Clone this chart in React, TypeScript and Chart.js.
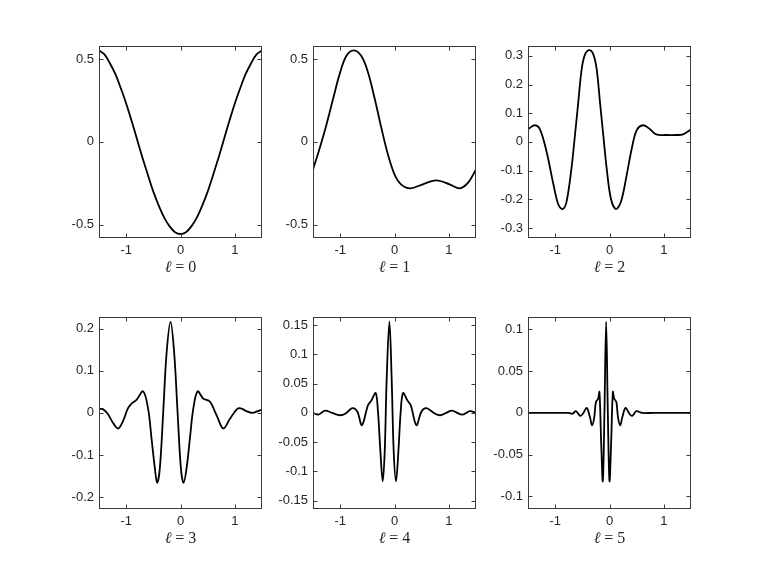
import React, { useEffect, useRef } from "react";
import { Chart, registerables } from "chart.js";

Chart.register(...registerables);

// ---------- data ----------
const X_MIN = -1.5;
const X_MAX = 1.5;
const X_TICKS = [-1, 0, 1];

const L0_X = [-1.5, -1.4, -1.3, -1.2, -1.1, -1.0, -0.9, -0.8, -0.7, -0.6, -0.5, -0.4, -0.3, -0.2, -0.1, 0, 0.1, 0.2, 0.3, 0.4, 0.5, 0.6, 0.7, 0.8, 0.9, 1.0, 1.1, 1.2, 1.3, 1.4, 1.5];
const L0_Y = [0.552, 0.528, 0.475, 0.41, 0.325, 0.232, 0.127, 0.016, -0.095, -0.2, -0.3, -0.385, -0.457, -0.51, -0.545, -0.556, -0.545, -0.51, -0.457, -0.385, -0.3, -0.2, -0.095, 0.016, 0.127, 0.232, 0.325, 0.41, 0.475, 0.528, 0.552];

const L1_X = [-1.5, -1.377, -1.255, -1.13, -1.01, -0.887, -0.75, -0.61, -0.487, -0.364, -0.24, -0.12, 0, 0.12, 0.29, 0.52, 0.77, 1.015, 1.2, 1.355, 1.5];
const L1_Y = [-0.167, -0.038, 0.101, 0.26, 0.409, 0.518, 0.552, 0.518, 0.419, 0.26, 0.082, -0.077, -0.196, -0.256, -0.28, -0.256, -0.232, -0.256, -0.28, -0.246, -0.167];

const L2_X = [-1.5, -1.38, -1.28, -1.157, -1.03, -0.94, -0.86, -0.79, -0.7, -0.636, -0.575, -0.512, -0.45, -0.37, -0.298, -0.236, -0.175, -0.114, -0.052, 0.028, 0.12, 0.212, 0.317, 0.41, 0.5, 0.62, 0.746, 0.86, 1.04, 1.23, 1.35, 1.5];
const L2_Y = [0.044, 0.058, 0.044, -0.035, -0.15, -0.219, -0.234, -0.208, -0.092, 0.023, 0.138, 0.254, 0.305, 0.32, 0.305, 0.254, 0.138, 0.023, -0.092, -0.2, -0.234, -0.208, -0.115, -0.023, 0.04, 0.058, 0.044, 0.026, 0.024, 0.024, 0.026, 0.043];

const L3_X = [-1.5, -1.43, -1.34, -1.24, -1.15, -1.06, -0.97, -0.91, -0.81, -0.687, -0.595, -0.533, -0.472, -0.43, -0.38, -0.318, -0.256, -0.183, -0.116, -0.054, 0.007, 0.057, 0.112, 0.173, 0.234, 0.315, 0.418, 0.54, 0.665, 0.787, 0.91, 1.04, 1.11, 1.2, 1.32, 1.42, 1.5];
const L3_Y = [0.009, 0.009, -0.002, -0.024, -0.037, -0.02, 0.01, 0.021, 0.031, 0.051, 0.009, -0.061, -0.131, -0.166, -0.131, 0.002, 0.142, 0.216, 0.142, 0.002, -0.131, -0.166, -0.131, -0.061, 0.009, 0.051, 0.034, 0.027, -0.006, -0.037, -0.014, 0.009, 0.011, 0.005, 0.0, 0.004, 0.008];

const L4_X = [-1.5, -1.4, -1.28, -1.15, -1.0, -0.9, -0.775, -0.683, -0.6, -0.488, -0.426, -0.346, -0.304, -0.26, -0.217, -0.18, -0.144, -0.094, -0.052, -0.015, 0.028, 0.072, 0.114, 0.157, 0.238, 0.299, 0.403, 0.495, 0.587, 0.74, 0.84, 0.95, 1.06, 1.24, 1.39, 1.5];
const L4_Y = [0, -0.003, 0.004, 0, -0.004, -0.001, 0.008, 0.002, -0.021, 0.013, 0.021, 0.034, 0.002, -0.065, -0.117, -0.065, 0.058, 0.156, 0.058, -0.065, -0.117, -0.065, 0.002, 0.034, 0.021, 0.013, -0.021, 0.002, 0.008, -0.001, -0.004, 0, 0.004, -0.003, 0.003, 0];

const L5_X = [-1.5, -1.2, -0.9, -0.75, -0.68, -0.62, -0.54, -0.49, -0.42, -0.36, -0.32, -0.28, -0.25, -0.21, -0.185, -0.154, -0.123, -0.093, -0.062, -0.031, 0.0, 0.031, 0.062, 0.087, 0.126, 0.156, 0.196, 0.236, 0.296, 0.366, 0.416, 0.496, 0.6, 0.8, 1.1, 1.5];
const L5_Y = [0, 0, 0, 0, -0.001, 0.002, -0.0035, -0.001, 0.006, -0.005, -0.015, -0.005, 0.013, 0.017, 0.025, -0.034, -0.0815, 0.001, 0.109, 0.001, -0.0815, -0.034, 0.025, 0.017, 0.013, -0.005, -0.015, -0.005, 0.006, -0.001, -0.0035, 0.002, 0, 0, 0, 0];

const Y_LIMITS = [0.58, 0.58, 0.335, 0.228, 0.164, 0.115];
const Y_TICKS_0 = [-0.5, 0, 0.5];
const Y_TICKS_1 = [-0.5, 0, 0.5];
const Y_TICKS_2 = [-0.3, -0.2, -0.1, 0, 0.1, 0.2, 0.3];
const Y_TICKS_3 = [-0.2, -0.1, 0, 0.1, 0.2];
const Y_TICKS_4 = [-0.15, -0.1, -0.05, 0, 0.05, 0.1, 0.15];
const Y_TICKS_5 = [-0.1, -0.05, 0, 0.05, 0.1];
const ELL_VALUES = ["0", "1", "2", "3", "4", "5"];

const SERIES_X = [L0_X, L1_X, L2_X, L3_X, L4_X, L5_X];
const SERIES_Y = [L0_Y, L1_Y, L2_Y, L3_Y, L4_Y, L5_Y];
const Y_TICKS = [Y_TICKS_0, Y_TICKS_1, Y_TICKS_2, Y_TICKS_3, Y_TICKS_4, Y_TICKS_5];

// ---------- layout ----------
const FIG_W = 763;
const FIG_H = 572;
const COL_LEFT = [0.13, 0.4108, 0.6916];
const ROW_BOTTOM = [0.5838, 0.11];
const AX_W = 0.2134;
const AX_H = 0.3412;
const PAD_L = 50;
const PAD_T = 10;
const PAD_R = 10;
const PAD_B = 50;

const fmt = (v: number) => {
  if (Math.abs(v) < 1e-9) return "0";
  return String(parseFloat(v.toFixed(3)));
};

const boxPlugin = {
  id: "matlabBox",
  afterDraw(chart: any, _args: any, opts: any) {
    const { ctx, chartArea: a, scales } = chart;
    const l = Math.round(a.left) + 0.5;
    const r = Math.round(a.right) - 0.5;
    const t = Math.round(a.top) + 0.5;
    const b = Math.round(a.bottom) - 0.5;
    ctx.save();
    ctx.strokeStyle = "#3a3a3a";
    ctx.lineWidth = 1;
    ctx.strokeRect(l, t, r - l, b - t);
    const tl = 4;
    ctx.beginPath();
    for (const tk of scales.x.ticks) {
      const px = Math.round(scales.x.getPixelForValue(tk.value)) + 0.5;
      ctx.moveTo(px, b);
      ctx.lineTo(px, b - tl);
      ctx.moveTo(px, t);
      ctx.lineTo(px, t + tl);
    }
    for (const tk of scales.y.ticks) {
      const py = Math.round(scales.y.getPixelForValue(tk.value)) + 0.5;
      ctx.moveTo(l, py);
      ctx.lineTo(l + tl, py);
      ctx.moveTo(r, py);
      ctx.lineTo(r - tl, py);
    }
    ctx.stroke();

    // title  "ℓ = n"
    const cx = (a.left + a.right) / 2;
    const cy = a.bottom + 30;
    const fam = '"Liberation Serif", "DejaVu Serif", serif';
    ctx.fillStyle = "#262626";
    ctx.textBaseline = "middle";
    ctx.textAlign = "left";
    ctx.font = `italic 16px ${fam}`;
    const w1 = ctx.measureText("ℓ").width;
    ctx.font = `16px ${fam}`;
    const w2 = ctx.measureText("=").width;
    const w3 = ctx.measureText(opts.ell).width;
    const gap = 4;
    let x = cx - (w1 + gap + w2 + gap + w3) / 2;
    ctx.font = `italic 16px ${fam}`;
    ctx.fillText("ℓ", x, cy);
    x += w1 + gap;
    ctx.font = `16px ${fam}`;
    ctx.fillText("=", x, cy);
    x += w2 + gap;
    ctx.fillText(opts.ell, x, cy);
    ctx.restore();
  },
};

function Panel({ idx }: { idx: number }) {
  const ref = useRef<HTMLCanvasElement | null>(null);
  const col = idx % 3;
  const row = Math.floor(idx / 3);
  const axLeft = Math.round(COL_LEFT[col] * FIG_W);
  const axTop = Math.round(FIG_H * (1 - ROW_BOTTOM[row] - AX_H));
  const axW = Math.round(AX_W * FIG_W);
  const axH = Math.round(AX_H * FIG_H);
  const cw = axW + PAD_L + PAD_R;
  const ch = axH + PAD_T + PAD_B;

  useEffect(() => {
    if (!ref.current) return;
    const xs = SERIES_X[idx];
    const ys = SERIES_Y[idx];
    const lim = Y_LIMITS[idx];
    const yt = Y_TICKS[idx];
    const tickFont = { family: '"Liberation Sans", Arial, sans-serif', size: 13 };
    const chart = new Chart(ref.current, {
      type: "line",
      data: {
        datasets: [
          {
            data: xs.map((x, i) => ({ x, y: ys[i] })),
            borderColor: "#000000",
            borderWidth: 1.8,
            pointRadius: 0,
            fill: false,
            tension: 0.35,
          },
        ],
      },
      plugins: [boxPlugin],
      options: {
        animation: false,
        responsive: false,
        maintainAspectRatio: false,
        devicePixelRatio: 1,
        layout: { padding: { left: 0, top: PAD_T, right: PAD_R, bottom: 0 } },
        plugins: {
          legend: { display: false },
          tooltip: { enabled: false },
          matlabBox: { ell: ELL_VALUES[idx] },
        } as any,
        scales: {
          x: {
            type: "linear",
            min: X_MIN,
            max: X_MAX,
            grid: { display: false, drawTicks: false, tickLength: 0 },
            border: { display: false },
            afterBuildTicks: (s: any) => {
              s.ticks = X_TICKS.map((v) => ({ value: v }));
            },
            afterFit: (s: any) => {
              s.height = PAD_B;
            },
            ticks: {
              color: "#262626",
              font: tickFont,
              padding: 5,
              maxRotation: 0,
              autoSkip: false,
              callback: (v: any) => fmt(Number(v)),
            },
          },
          y: {
            type: "linear",
            min: -lim,
            max: lim,
            grid: { display: false, drawTicks: false, tickLength: 0 },
            border: { display: false },
            afterBuildTicks: (s: any) => {
              s.ticks = yt.map((v) => ({ value: v }));
            },
            afterFit: (s: any) => {
              s.width = PAD_L;
            },
            ticks: {
              color: "#262626",
              font: tickFont,
              padding: 5,
              autoSkip: false,
              callback: (v: any) => fmt(Number(v)),
            },
          },
        },
      } as any,
    });
    return () => chart.destroy();
  }, [idx]);

  return (
    <canvas
      ref={ref}
      width={cw}
      height={ch}
      style={{
        position: "absolute",
        left: axLeft - PAD_L,
        top: axTop - PAD_T,
        width: cw,
        height: ch,
      }}
    />
  );
}

export default function App() {
  return (
    <div
      style={{
        position: "absolute",
        left: 0,
        top: 0,
        width: FIG_W,
        height: FIG_H,
        background: "#ffffff",
        overflow: "hidden",
      }}
    >
      {[0, 1, 2, 3, 4, 5].map((i) => (
        <Panel key={i} idx={i} />
      ))}
    </div>
  );
}
